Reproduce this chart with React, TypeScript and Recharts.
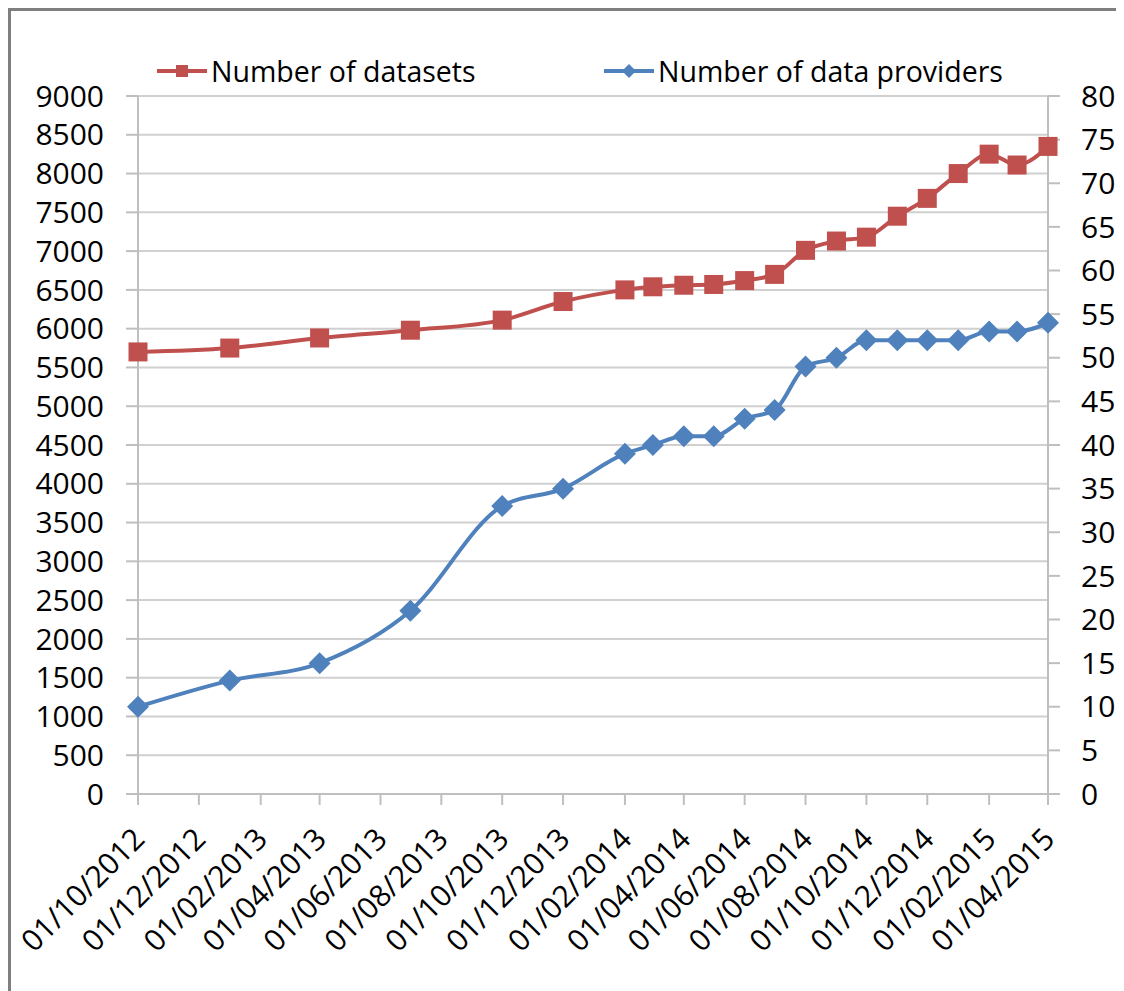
import React from 'react';
import { LineChart, Line, XAxis, YAxis, CartesianGrid, Legend } from 'recharts';

const dates = [
  '01/10/2012', '01/01/2013', '01/04/2013', '01/07/2013', '01/10/2013', '01/12/2013',
  '01/02/2014', '01/03/2014', '01/04/2014', '01/05/2014', '01/06/2014', '01/07/2014',
  '01/08/2014', '01/09/2014', '01/10/2014', '01/11/2014', '01/12/2014', '01/01/2015',
  '01/02/2015', '01/03/2015', '01/04/2015',
];
const datasets = [
  5700, 5750, 5880, 5980, 6110, 6350, 6500, 6540, 6560, 6570, 6620, 6700,
  7010, 7130, 7180, 7450, 7680, 8000, 8250, 8110, 8350,
];
const providers = [
  10, 13, 15, 21, 33, 35, 39, 40, 41, 41, 43, 44, 49, 50, 52, 52, 52, 52, 53, 53, 54,
];
const dateTicks = [
  '01/10/2012', '01/12/2012', '01/02/2013', '01/04/2013', '01/06/2013', '01/08/2013',
  '01/10/2013', '01/12/2013', '01/02/2014', '01/04/2014', '01/06/2014', '01/08/2014',
  '01/10/2014', '01/12/2014', '01/02/2015', '01/04/2015',
];
const leftTicks = [0, 500, 1000, 1500, 2000, 2500, 3000, 3500, 4000, 4500, 5000, 5500, 6000, 6500, 7000, 7500, 8000, 8500, 9000];
const rightTicks = [0, 5, 10, 15, 20, 25, 30, 35, 40, 45, 50, 55, 60, 65, 70, 75, 80];

const RED = '#C0504D';
const BLUE = '#4F81BD';
const FONT = '"Open Sans", sans-serif';
const AXIS = '#bfbfbf';

const toTime = (s: string) => {
  const [d, m, y] = s.split('/').map(Number);
  return Date.UTC(y, m - 1, d);
};
const labelOf: Record<number, string> = {};
dateTicks.forEach((s) => (labelOf[toTime(s)] = s));

const data = dates.map((d, i) => ({ t: toTime(d), datasets: datasets[i], providers: providers[i] }));

const Square = (props: any) => {
  const { cx, cy, index } = props;
  return <rect key={`sq-${index}`} x={cx - 9.5} y={cy - 9.5} width={19} height={19} fill={RED} />;
};
const Diamond = (props: any) => {
  const { cx, cy, index } = props;
  const r = 11;
  return (
    <polygon
      key={`dm-${index}`}
      points={`${cx},${cy - r} ${cx + r},${cy} ${cx},${cy + r} ${cx - r},${cy}`}
      fill={BLUE}
    />
  );
};

const DateTick = (props: any) => {
  const { x, y, payload } = props;
  return (
    <g transform={`translate(${x},${y})`}>
      <text
        x={0}
        y={0}
        dx={-18}
        dy={30}
        textAnchor="end"
        transform="rotate(-45)"
        fill="#000"
        fontSize={30}
        fontFamily={FONT}
      >
        {labelOf[payload.value]}
      </text>
    </g>
  );
};

const legendOrder = ['datasets', 'providers'];

const LegendBox = (props: any) => {
  const items = legendOrder
    .map((k) => (props.payload || []).find((p: any) => p.dataKey === k))
    .filter(Boolean);
  return (
    <div style={{ display: 'flex', fontFamily: FONT, fontSize: 28.5, color: '#000', lineHeight: '40px' }}>
      {items.map((it: any, i: number) => (
        <div key={i} style={{ display: 'flex', alignItems: 'center', width: i === 0 ? 447 : 420 }}>
          <svg width={52} height={20} style={{ marginRight: 2 }}>
            <line x1={0} y1={10} x2={50} y2={10} stroke={it.color} strokeWidth={4} />
            {i === 0 ? (
              <rect x={19} y={4} width={12} height={12} fill={it.color} />
            ) : (
              <polygon points="25,3 32,10 25,17 18,10" fill={it.color} />
            )}
          </svg>
          <span>{it.value}</span>
        </div>
      ))}
    </div>
  );
};

export default function App() {
  return (
    <div
      style={{
        width: 1116,
        height: 983,
        borderTop: '3px solid #7f7f7f',
        borderLeft: '3px solid #7f7f7f',
        boxSizing: 'border-box',
        background: '#fff',
        overflow: 'hidden',
      }}
    >
      <style>{'body{overflow:hidden}'}</style>
      <LineChart width={1113} height={980} data={data} margin={{ top: 85, right: 0, bottom: 0, left: 0 }}>
        <CartesianGrid yAxisId="left" vertical={false} stroke="#d0d0d0" strokeWidth={2} />
        <XAxis
          dataKey="t"
          type="number"
          scale="linear"
          domain={[toTime(dateTicks[0]), toTime(dateTicks[dateTicks.length - 1])]}
          ticks={dateTicks.map(toTime)}
          interval={0}
          height={197}
          tick={<DateTick />}
          tickSize={11}
          stroke={AXIS}
          strokeWidth={2}
          tickLine={{ stroke: AXIS, strokeWidth: 2 }}
        />
        <YAxis
          yAxisId="left"
          width={127}
          domain={[0, 9000]}
          ticks={leftTicks}
          interval={0}
          tickSize={12}
          tickMargin={22}
          stroke={AXIS}
          strokeWidth={2}
          tick={{ fill: '#000', fontSize: 30, fontFamily: FONT }}
        />
        <YAxis
          yAxisId="right"
          orientation="right"
          width={76}
          domain={[0, 80]}
          ticks={rightTicks}
          interval={0}
          tickSize={12}
          tickMargin={21}
          stroke={AXIS}
          strokeWidth={2}
          tick={{ fill: '#000', fontSize: 30, fontFamily: FONT, textAnchor: 'start' }}
        />
        <Legend
          layout="horizontal"
          verticalAlign="middle"
          align="center"
          content={<LegendBox />}
          wrapperStyle={{ top: 40, left: 146, width: 900 }}
        />
        <Line
          yAxisId="left"
          type="monotone"
          dataKey="datasets"
          name="Number of datasets"
          stroke={RED}
          strokeWidth={4}
          dot={<Square />}
          activeDot={false}
          isAnimationActive={false}
        />
        <Line
          yAxisId="right"
          type="monotone"
          dataKey="providers"
          name="Number of data providers"
          stroke={BLUE}
          strokeWidth={4}
          dot={<Diamond />}
          activeDot={false}
          isAnimationActive={false}
        />
      </LineChart>
    </div>
  );
}
